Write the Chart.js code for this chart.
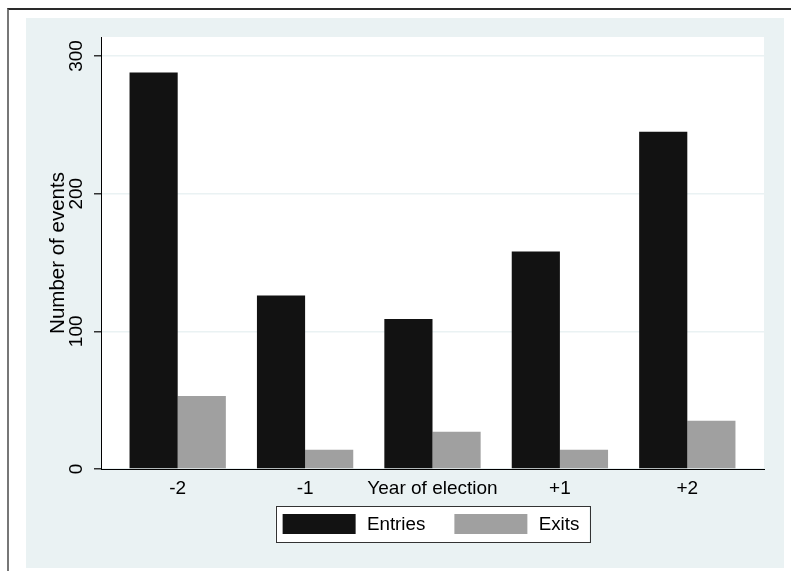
<!DOCTYPE html>
<html>
<head>
<meta charset="utf-8">
<script src="https://cdn.jsdelivr.net/npm/chart.js@4/dist/chart.umd.min.js"></script>
<style>
  body { margin: 0; background: #fff; }
  #frame { position: absolute; left: 7px; top: 8px; width: 800px; height: 600px;
           border-top: 2px solid #2a2a2a; border-left: 2px solid #777; }
  #panel { position: absolute; left: 26px; top: 18px; background: rgb(234,242,243); }
</style>
</head>
<body>
<div id="frame"></div>
<div id="panel"><canvas id="grafic" width="758" height="550"></canvas></div>
<script>
const categories = ['-2', '-1', 'Year of election', '+1', '+2'];
const entries = [288, 126, 109, 158, 245];
const exits = [53, 14, 27, 14, 35];
const yTicks = [0, 100, 200, 300];

const font = "'Liberation Sans', Arial, sans-serif";

// fons blanc de la zona del grafic
const fonsBlanc = {
    id: 'fonsBlanc',
    beforeDraw(chart) {
        const a = chart.chartArea;
        const ctx = chart.ctx;
        ctx.save();
        ctx.fillStyle = '#fff';
        ctx.fillRect(a.left, a.top, a.right - a.left, a.bottom - a.top);
        ctx.restore();
    }
};

// llegenda amb requadre, estil stata
const llegenda = {
    id: 'llegenda',
    afterDraw(chart) {
        const ctx = chart.ctx;
        const a = chart.chartArea;
        const cx = (a.left + a.right) / 2;
        ctx.save();
        ctx.font = '18.8px ' + font;
        const sets = chart.data.datasets;
        const widths = sets.map(d => ctx.measureText(d.label).width);
        const total = 7 + 10 + sets.length * (73 + 11.3) + widths.reduce((s, w) => s + w, 0) + 29 * (sets.length - 1);
        const left = cx - total / 2;
        const top = a.bottom + 37;
        ctx.fillStyle = '#fff';
        ctx.fillRect(left, top, total, 36);
        ctx.strokeStyle = '#333';
        ctx.lineWidth = 1;
        ctx.strokeRect(Math.round(left) + 0.5, top + 0.5, Math.round(total), 36);
        let x = left + 7;
        sets.forEach((d, i) => {
            ctx.fillStyle = d.backgroundColor;
            ctx.fillRect(x, top + 8, 73, 20);
            x += 73 + 11.3;
            ctx.fillStyle = '#000';
            ctx.textBaseline = 'middle';
            ctx.fillText(d.label, x, top + 18.5);
            x += widths[i] + 29;
        });
        ctx.restore();
    }
};

const ctx = document.getElementById('grafic').getContext('2d');
const grafic = new Chart(ctx, {
    type: 'bar',
    data: {
        datasets: [{
            label: 'Entries',
            data: entries.map((v, i) => ({ x: i, y: v })),
            backgroundColor: '#121212',
            borderWidth: 0
        }, {
            label: 'Exits',
            data: exits.map((v, i) => ({ x: i, y: v })),
            backgroundColor: '#a0a0a0',
            borderWidth: 0
        }]
    },
    options: {
        responsive: false,
        animation: false,
        categoryPercentage: 0.756,
        barPercentage: 1,
        layout: { padding: { top: 19, right: 20, left: 0, bottom: 0 } },
        plugins: {
            legend: { display: false },
            tooltip: { enabled: false }
        },
        scales: {
            x: {
                type: 'linear',
                offset: false,
                min: -0.602,
                max: 4.602,
                afterBuildTicks: s => { s.ticks = categories.map((c, i) => ({ value: i })); },
                afterFit: s => { s.height = 99; },
                grid: { display: false, drawTicks: false, offset: false },
                border: { display: true, color: '#000', width: 1 },
                ticks: {
                    autoSkip: false,
                    maxRotation: 0,
                    padding: 8,
                    color: '#000',
                    font: { family: font, size: 19 },
                    callback: v => categories[v]
                }
            },
            y: {
                min: 0,
                max: 313.8,
                afterBuildTicks: s => { s.ticks = yTicks.map(v => ({ value: v })); },
                afterFit: s => { s.width = 75; },
                grid: { color: 'rgb(234,242,243)', lineWidth: 1.5, tickColor: '#333', tickLength: 7 },
                border: { display: true, color: '#000', width: 1 },
                ticks: {
                    minRotation: 90,
                    maxRotation: 90,
                    crossAlign: 'center',
                    padding: 1,
                    color: '#000',
                    font: { family: font, size: 19 }
                },
                title: {
                    display: true,
                    text: 'Number of events',
                    color: '#000',
                    font: { family: font, size: 20.5 },
                    padding: { top: 20, bottom: 0 }
                }
            }
        }
    },
    plugins: [fonsBlanc, llegenda]
});
</script>
</body>
</html>
